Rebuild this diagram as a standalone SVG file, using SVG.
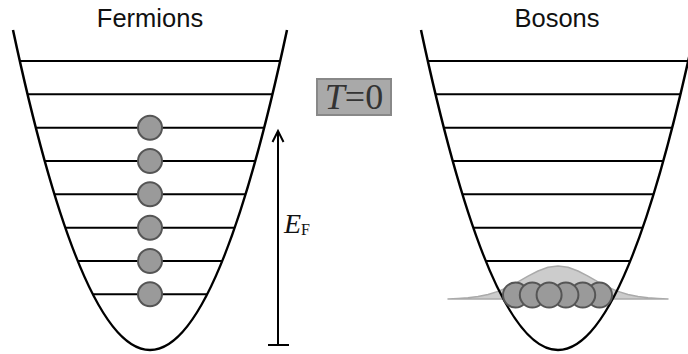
<svg xmlns="http://www.w3.org/2000/svg" width="688" height="354" viewBox="0 0 688 354">
<style>
.title{font-family:"Liberation Sans",Arial,sans-serif;font-size:25.5px;fill:#111;text-anchor:middle}
.well{fill:none;stroke:#000;stroke-width:2.5}
.lvl{stroke:#000;stroke-width:2}
.ball{fill:#9a9a9a;stroke:#555;stroke-width:2}
.serif{font-family:"Liberation Serif","Times New Roman",serif}
</style>
<rect width="688" height="354" fill="#fff"/>
<text class="title" x="150" y="26.5">Fermions</text>
<text class="title" x="557" y="26.5">Bosons</text>
<g id="fermion-well">
<path class="well" d="M13,30 Q150,670 287,30"/>
<line class="lvl" x1="19.8" y1="61" x2="280.2" y2="61"/>
<line class="lvl" x1="27.5" y1="94.3" x2="272.5" y2="94.3"/>
<line class="lvl" x1="35.8" y1="127.7" x2="264.2" y2="127.7"/>
<line class="lvl" x1="44.7" y1="161" x2="255.3" y2="161"/>
<line class="lvl" x1="54.4" y1="194.3" x2="245.6" y2="194.3"/>
<line class="lvl" x1="65.3" y1="227.7" x2="234.7" y2="227.7"/>
<line class="lvl" x1="77.7" y1="261" x2="222.3" y2="261"/>
<line class="lvl" x1="92.8" y1="294.3" x2="207.2" y2="294.3"/>
</g>
<g id="fermions">
<circle class="ball" cx="150" cy="127.7" r="12"/>
<circle class="ball" cx="150" cy="161" r="12"/>
<circle class="ball" cx="150" cy="194.3" r="12"/>
<circle class="ball" cx="150" cy="227.7" r="12"/>
<circle class="ball" cx="150" cy="261" r="12"/>
<circle class="ball" cx="150" cy="294.3" r="12"/>
</g>
<g id="boson-well">
<path d="M448,299 L458,298.4 468,297.8 478,296.6 488,294.5 498,291.4 508,287.1 518,281.8 528,276.1 538,271 548,267.3 558,266 568,267.3 578,271 588,276.1 598,281.8 608,287.1 618,291.4 628,294.5 638,296.6 648,297.8 658,298.4 668,299 Z" fill="#cccccc" stroke="#aaaaaa" stroke-width="1.5" stroke-linejoin="round"/>
<path class="well" d="M421,30 Q558,670 695,30"/>
<line class="lvl" x1="427.8" y1="61" x2="688.2" y2="61"/>
<line class="lvl" x1="435.5" y1="94.3" x2="680.5" y2="94.3"/>
<line class="lvl" x1="443.8" y1="127.7" x2="672.2" y2="127.7"/>
<line class="lvl" x1="452.7" y1="161" x2="663.3" y2="161"/>
<line class="lvl" x1="462.4" y1="194.3" x2="653.6" y2="194.3"/>
<line class="lvl" x1="473.3" y1="227.7" x2="642.7" y2="227.7"/>
<line class="lvl" x1="485.7" y1="261" x2="630.3" y2="261"/>
</g>
<g id="bosons">
<circle class="ball" cx="515.5" cy="295" r="12.5"/>
<circle class="ball" cx="532.3" cy="295" r="12.5"/>
<circle class="ball" cx="599.5" cy="295" r="12.5"/>
<circle class="ball" cx="582.7" cy="295" r="12.5"/>
<circle class="ball" cx="565.9" cy="295" r="12.5"/>
<circle class="ball" cx="549.1" cy="295" r="12.5"/>
</g>
<g id="fermi-arrow">
<line x1="278" y1="345" x2="278" y2="131" stroke="#000" stroke-width="2"/>
<line x1="268" y1="345" x2="289" y2="345" stroke="#000" stroke-width="2"/>
<polyline points="272.5,142 278,131 283.5,142" fill="none" stroke="#000" stroke-width="2"/>
<text class="serif" x="284" y="233" font-size="28" font-style="italic" fill="#111">E<tspan font-style="normal" font-size="16" dy="1.5">F</tspan></text>
</g>
<g id="temp-label">
<rect x="317" y="79" width="74" height="36" fill="#a9a9a9" stroke="#888" stroke-width="2"/>
<text class="serif" x="354" y="109" font-size="36" fill="#333" text-anchor="middle"><tspan font-style="italic">T</tspan>=0</text>
</g>
</svg>
